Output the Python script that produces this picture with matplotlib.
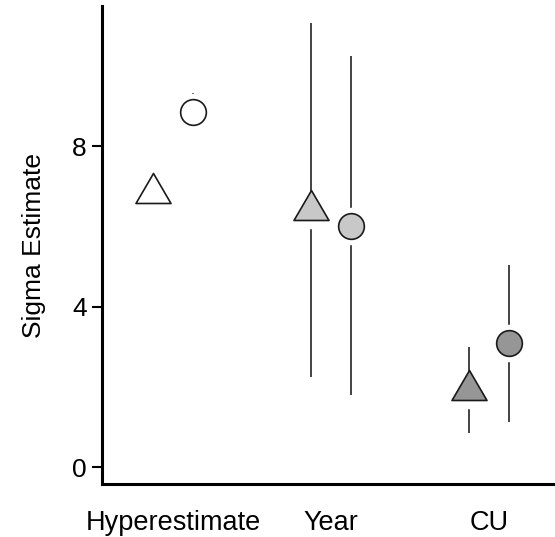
import matplotlib
matplotlib.use("Agg")
from matplotlib import pyplot as plt
from matplotlib.path import Path

# data
groups = ["Hyperestimate", "Year", "CU"]
fills = ["#ffffff", "#c8c8c8", "#969696"]

tri_est = [6.83, 6.41, 1.92]
tri_lo = [6.55, 2.24, 0.85]
tri_hi = [7.10, 11.07, 3.00]

circ_est = [8.85, 6.01, 3.09]
circ_lo = [8.40, 1.80, 1.12]
circ_hi = [9.33, 10.25, 5.04]

plt.rcParams["font.family"] = ["Liberation Sans", "DejaVu Sans"]

# triangle with centroid at origin
tri_marker = Path([(-1, -0.571), (1, -0.571), (0, 1.143), (-1, -0.571)], closed=True)

fig = plt.figure(figsize=(5.55, 5.37), dpi=100)
ax = fig.add_axes([102 / 555, (537 - 484) / 537, 453 / 555, 478 / 537])

dx = 0.127
for i in range(len(groups)):
    xt = i + 1 - dx
    xc = i + 1 + dx
    ax.vlines(xt, tri_lo[i], tri_hi[i], colors="#222222", lw=1.2, zorder=1)
    ax.vlines(xc, circ_lo[i], circ_hi[i], colors="#222222", lw=1.2, zorder=1)
    # white halo behind each point
    ax.plot([xt, xc], [tri_est[i], circ_est[i]], "o", ms=27, mfc="white",
            mec="none", zorder=2)
    ax.plot(xt, tri_est[i], marker=tri_marker, ms=28.8, mfc=fills[i],
            mec="#1a1a1a", mew=1.2, zorder=3)
    ax.plot(xc, circ_est[i], marker="o", ms=18.5, mfc=fills[i],
            mec="#1a1a1a", mew=1.2, zorder=3)

ax.set_xlim(0.551, 3.418)
ax.set_ylim(-0.42, 11.5)
ax.set_xticks([1, 2, 3])
ax.set_xticklabels(groups)
ax.set_yticks([0, 4, 8])

ax.spines["top"].set_visible(False)
ax.spines["right"].set_visible(False)
for s in ["left", "bottom"]:
    ax.spines[s].set_linewidth(2.2)
    ax.spines[s].set_capstyle("projecting")

ax.tick_params(axis="x", length=0, pad=19, labelsize=19.5)
ax.tick_params(axis="y", length=7, width=1.5, pad=4, labelsize=19)

ax.set_ylabel("Sigma Estimate", fontsize=19)
ax.yaxis.set_label_coords(-0.124, 0.5)

fig.savefig("out.png", dpi=100)
